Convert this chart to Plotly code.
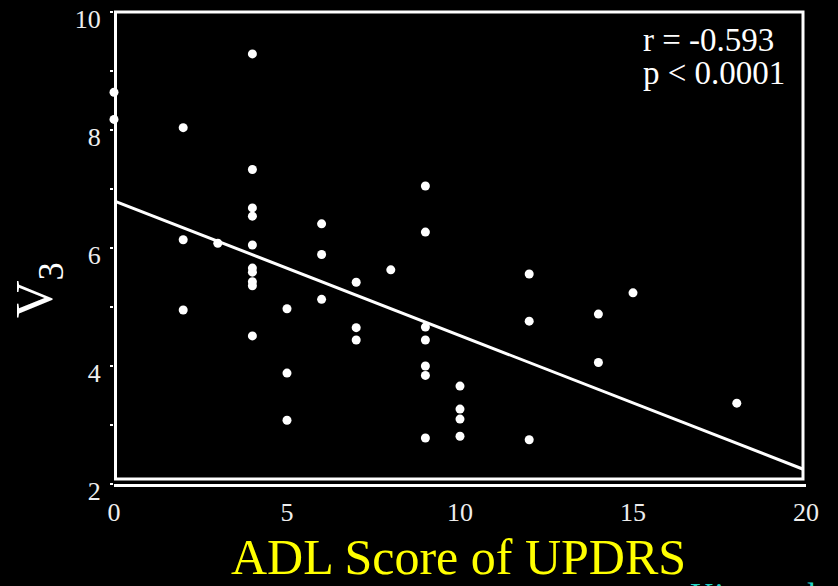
import plotly.graph_objects as go

# ---- data ----
adl_score = [0, 0,
             2, 2, 2,
             3,
             4, 4, 4, 4, 4, 4, 4, 4, 4, 4,
             5, 5, 5,
             6, 6, 6,
             7, 7, 7,
             8,
             9, 9, 9, 9, 9, 9, 9,
             10, 10, 10, 10,
             12, 12, 12,
             14, 14,
             15,
             18]
v3 = [8.64, 8.18,
      8.04, 6.14, 4.95,
      6.08,
      9.29, 7.33, 6.68, 6.54, 6.05, 5.66, 5.59, 5.43, 5.36, 4.51,
      4.97, 3.88, 3.08,
      6.41, 5.89, 5.13,
      5.42, 4.65, 4.44,
      5.63,
      7.05, 6.27, 4.66, 4.44, 4.00, 3.84, 2.78,
      3.66, 3.27, 3.10, 2.81,
      5.56, 4.76, 2.75,
      4.88, 4.06,
      5.24,
      3.37]
fit_x = [0, 19.92]
fit_y = [6.80, 2.25]
y_tickvals = [2, 4, 6, 8, 10]
x_tickvals = [0, 5, 10, 15, 20]
stat_lines = ["r = -0.593", "p < 0.0001"]

W, H = 838, 586
L, R, T, B = 114, 32, 12, 102
PW, PH = W - L - R, H - T - B


def px(x):
    return (x - L) / PW


def py(y):
    return (H - B - y) / PH


SERIF = "Liberation Serif, Times New Roman, serif"

fig = go.Figure()
fig.add_trace(go.Scatter(x=fit_x, y=fit_y, mode="lines",
                         line=dict(color="white", width=3),
                         hoverinfo="skip", showlegend=False))
fig.add_trace(go.Scatter(x=adl_score, y=v3, mode="markers",
                         marker=dict(color="white", size=9, line=dict(width=0)),
                         cliponaxis=False, showlegend=False))

fig.update_layout(
    width=W, height=H,
    margin=dict(l=L, r=R, t=T, b=B, pad=0, autoexpand=False),
    paper_bgcolor="black", plot_bgcolor="black",
    font=dict(family=SERIF, color="white"),
    xaxis=dict(range=[0, 20], tickvals=x_tickvals, showgrid=False, zeroline=False,
               showline=True, linecolor="white", linewidth=3, automargin=False,
               ticks="", tickfont=dict(size=26, color="#eeeeee", family=SERIF),
               ticklabelstandoff=3, ticklabeloverflow="allow"),
    yaxis=dict(range=[2, 10], tickvals=y_tickvals, showgrid=False, zeroline=False,
               showline=False, automargin=False,
               ticks="outside", ticklen=3, tickwidth=2, tickcolor="white",
               minor=dict(dtick=1, ticks="outside", ticklen=3, tickwidth=2,
                          tickcolor="white", showgrid=False),
               tickfont=dict(size=26, color="#eeeeee", family=SERIF),
               ticklabelstandoff=4, ticklabelshift=7, ticklabeloverflow="allow"),
    shapes=[dict(type="rect", xref="paper", yref="paper",
                 x0=px(115.5), x1=px(803), y0=py(479), y1=py(12),
                 line=dict(color="white", width=3), fillcolor="rgba(0,0,0,0)")],
    annotations=[
        dict(text=stat_lines[0], xref="paper", yref="paper", x=px(641), y=py(40),
             xanchor="left", yanchor="middle", showarrow=False,
             font=dict(size=33, color="white", family=SERIF)),
        dict(text=stat_lines[1], xref="paper", yref="paper", x=px(641), y=py(73),
             xanchor="left", yanchor="middle", showarrow=False,
             font=dict(size=33, color="white", family=SERIF)),
        dict(text="V<sub>3</sub>", xref="paper", yref="paper", x=px(38), y=py(290),
             xanchor="center", yanchor="middle", textangle=-90, showarrow=False,
             font=dict(size=52, color="white", family=SERIF)),
        dict(text="ADL Score of UPDRS", xref="paper", yref="paper", x=px(458), y=py(557),
             xanchor="center", yanchor="middle", showarrow=False,
             font=dict(size=50, color="#ffff00", family=SERIF)),
        dict(text="Kim et al.", xref="paper", yref="paper", x=px(688), y=py(574),
             xanchor="left", yanchor="top", showarrow=False,
             font=dict(size=34, color="#22d3c5", family=SERIF)),
    ],
)

fig.write_html("out.html",
               config={"displayModeBar": False},
               post_script="document.body.style.margin='0';"
                           "document.body.style.background='black';"
                           "document.body.style.overflow='hidden';")
